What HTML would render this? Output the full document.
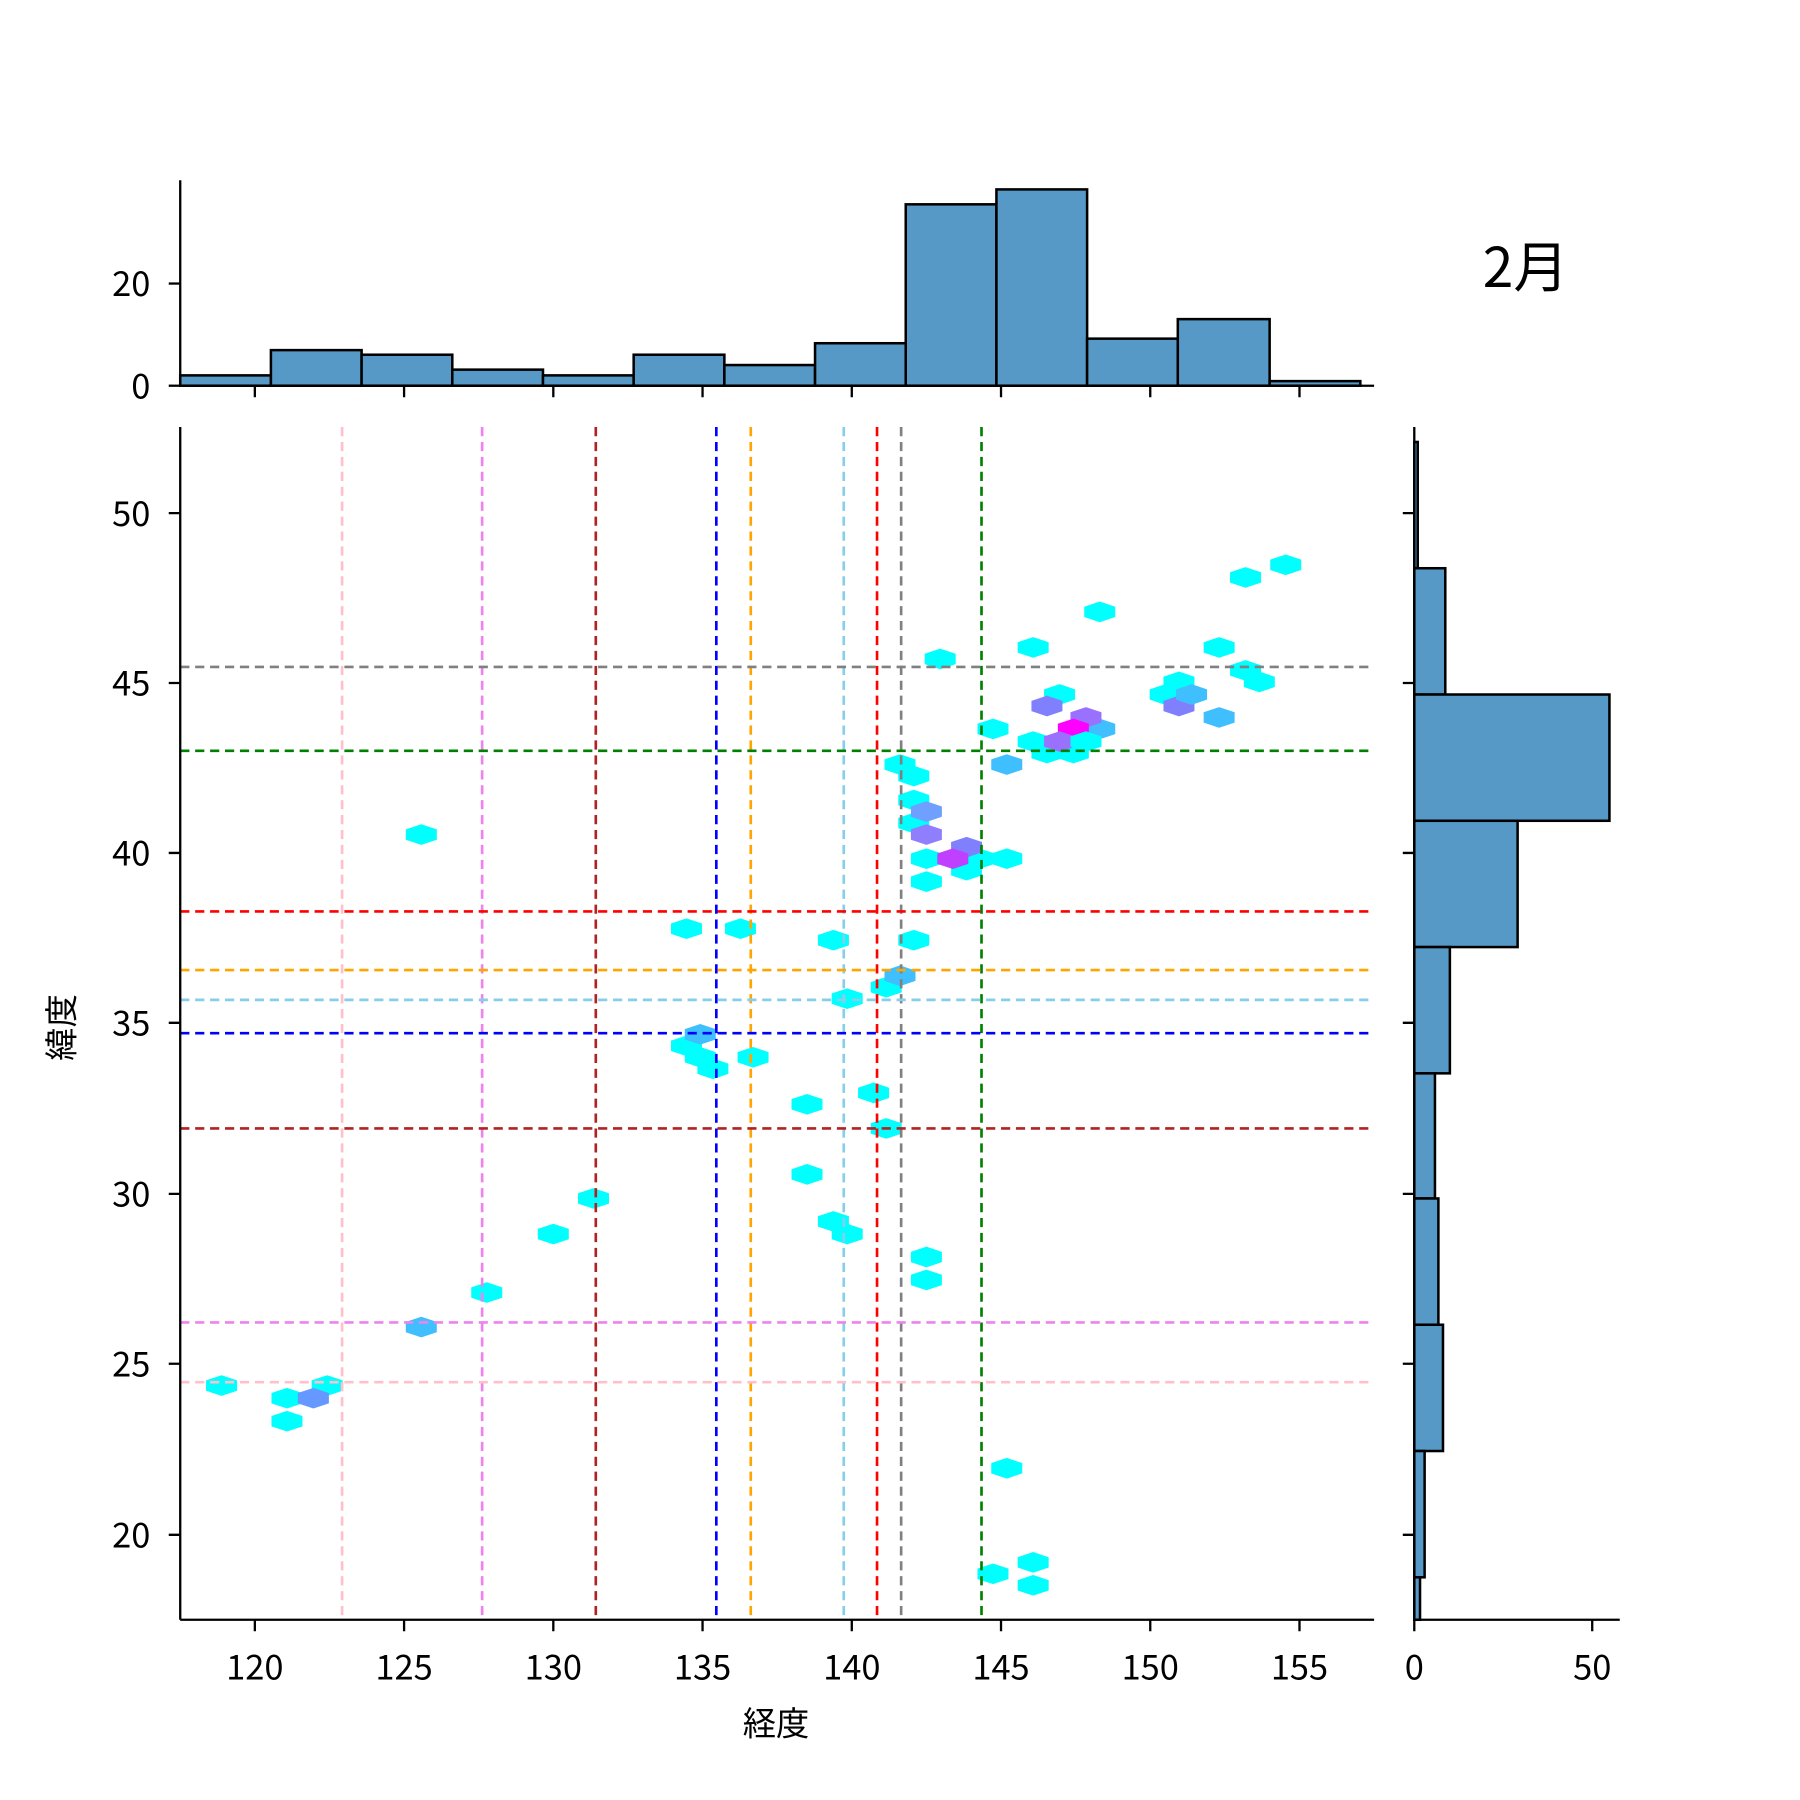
<!DOCTYPE html>
<html><head><meta charset="utf-8"><style>html,body{margin:0;padding:0;background:#fff}svg{display:block}</style></head>
<body>
<svg width="1800" height="1800" viewBox="0 0 1568 1568" xmlns="http://www.w3.org/2000/svg" font-family="Noto Sans CJK JP, Liberation Sans, sans-serif">
<rect width="1568" height="1568" fill="#fff"/>
<defs><polygon id="h" points="0,-9 13.5,-4.5 13.5,4.5 0,9 -13.5,4.5 -13.5,-4.5"/></defs>
<g fill="#5799c6" stroke="#000" stroke-width="2.2">
<rect x="157" y="327" width="79" height="9"/>
<rect x="236" y="305" width="79" height="31"/>
<rect x="315" y="309" width="79" height="27"/>
<rect x="394" y="322" width="79" height="14"/>
<rect x="473" y="327" width="79" height="9"/>
<rect x="552" y="309" width="79" height="27"/>
<rect x="631" y="318" width="79" height="18"/>
<rect x="710" y="299" width="79" height="37"/>
<rect x="789" y="178" width="79" height="158"/>
<rect x="868" y="165" width="79" height="171"/>
<rect x="947" y="295" width="79" height="41"/>
<rect x="1026" y="278" width="80" height="58"/>
<rect x="1106" y="332" width="79" height="4"/>
</g>
<g stroke="#000" stroke-width="2" fill="none">
<line x1="157" y1="157" x2="157" y2="336"/><line x1="157" y1="336" x2="1197" y2="336"/>
<line x1="147" y1="336" x2="157" y2="336"/><line x1="147" y1="247" x2="157" y2="247"/>
<path d="M222 336v10M352 336v10M482 336v10M612 336v10M742 336v10M872 336v10M1002 336v10M1132 336v10"/>
</g>
<g font-size="30" text-anchor="end"><text x="131" y="347">0</text><text x="131" y="258">20</text></g>
<text x="1329" y="250" font-size="48" text-anchor="middle">2月</text>
<g fill="#5799c6" stroke="#000" stroke-width="2.2">
<rect x="1232" y="385" width="3" height="110"/>
<rect x="1232" y="495" width="27" height="110"/>
<rect x="1232" y="605" width="170" height="110"/>
<rect x="1232" y="715" width="90" height="110"/>
<rect x="1232" y="825" width="31" height="110"/>
<rect x="1232" y="935" width="18" height="109"/>
<rect x="1232" y="1044" width="21" height="110"/>
<rect x="1232" y="1154" width="25" height="110"/>
<rect x="1232" y="1264" width="9" height="110"/>
<rect x="1232" y="1374" width="5" height="37"/>
</g>
<g stroke="#000" stroke-width="2" fill="none">
<line x1="1232" y1="372" x2="1232" y2="1411"/><line x1="1232" y1="1411" x2="1411" y2="1411"/>
<path d="M1232 1411v10M1387 1411v10"/>
<path d="M1222 447h10M1222 595h10M1222 743h10M1222 891h10M1222 1040h10M1222 1188h10M1222 1337h10"/>
</g>
<g font-size="30" text-anchor="middle"><text x="1232" y="1463">0</text><text x="1387" y="1463">50</text></g>
<g fill="#00ffff">
<use href="#h" x="193" y="1207"/><use href="#h" x="250" y="1218"/><use href="#h" x="250" y="1238"/><use href="#h" x="285" y="1207"/>
<use href="#h" x="367" y="727"/><use href="#h" x="424" y="1126"/><use href="#h" x="482" y="1075"/><use href="#h" x="517" y="1044"/>
<use href="#h" x="598" y="809"/><use href="#h" x="645" y="809"/><use href="#h" x="598" y="911"/><use href="#h" x="610" y="921"/><use href="#h" x="621" y="931"/>
<use href="#h" x="656" y="921"/><use href="#h" x="703" y="962"/><use href="#h" x="703" y="1023"/><use href="#h" x="726" y="819"/>
<use href="#h" x="726" y="1064"/><use href="#h" x="738" y="1075"/><use href="#h" x="738" y="870"/><use href="#h" x="761" y="952"/>
<use href="#h" x="772" y="860"/><use href="#h" x="772" y="983"/><use href="#h" x="784" y="666"/><use href="#h" x="796" y="676"/>
<use href="#h" x="796" y="697"/><use href="#h" x="796" y="717"/><use href="#h" x="796" y="819"/><use href="#h" x="807" y="748"/>
<use href="#h" x="853" y="748"/><use href="#h" x="842" y="758"/><use href="#h" x="877" y="748"/><use href="#h" x="807" y="768"/>
<use href="#h" x="807" y="1095"/><use href="#h" x="807" y="1115"/><use href="#h" x="819" y="574"/><use href="#h" x="865" y="635"/>
<use href="#h" x="877" y="1279"/><use href="#h" x="865" y="1371"/><use href="#h" x="900" y="1361"/><use href="#h" x="900" y="1381"/>
<use href="#h" x="900" y="564"/><use href="#h" x="900" y="646"/><use href="#h" x="912" y="656"/><use href="#h" x="923" y="605"/>
<use href="#h" x="935" y="656"/><use href="#h" x="958" y="533"/><use href="#h" x="1015" y="605"/><use href="#h" x="1027" y="594"/>
<use href="#h" x="1062" y="564"/><use href="#h" x="1085" y="503"/><use href="#h" x="1085" y="584"/><use href="#h" x="1097" y="594"/><use href="#h" x="1120" y="492"/>
</g>
<use href="#h" x="273" y="1218" fill="#6699ff"/>
<use href="#h" x="367" y="1156" fill="#40bfff"/>
<use href="#h" x="610" y="901" fill="#40bfff"/>
<use href="#h" x="784" y="850" fill="#40bfff"/>
<use href="#h" x="807" y="707" fill="#6f9fff"/>
<use href="#h" x="807" y="727" fill="#8f7fff"/>
<use href="#h" x="842" y="738" fill="#8080ff"/>
<use href="#h" x="830" y="748" fill="#c040ff"/>
<use href="#h" x="877" y="666" fill="#40bfff"/>
<use href="#h" x="912" y="615" fill="#8080ff"/>
<use href="#h" x="958" y="635" fill="#40bfff"/>
<use href="#h" x="946" y="625" fill="#9a70ff"/>
<use href="#h" x="935" y="635" fill="#ff00ff"/>
<use href="#h" x="923" y="646" fill="#9a70ff"/>
<use href="#h" x="946" y="646" fill="#00ffff"/>
<use href="#h" x="1027" y="615" fill="#8080ff"/>
<use href="#h" x="1038" y="605" fill="#40bfff"/>
<use href="#h" x="1062" y="625" fill="#40bfff"/>
<g stroke-width="2.3" stroke-dasharray="8,5" fill="none">
<line x1="298" y1="372" x2="298" y2="1411" stroke="#ffc0cb"/>
<line x1="420" y1="372" x2="420" y2="1411" stroke="#ee82ee"/>
<line x1="519" y1="372" x2="519" y2="1411" stroke="#b22222"/>
<line x1="624" y1="372" x2="624" y2="1411" stroke="#0000ff"/>
<line x1="654" y1="372" x2="654" y2="1411" stroke="#ffa500"/>
<line x1="735" y1="372" x2="735" y2="1411" stroke="#87ceeb"/>
<line x1="764" y1="372" x2="764" y2="1411" stroke="#ff0000"/>
<line x1="785" y1="372" x2="785" y2="1411" stroke="#808080"/>
<line x1="855" y1="372" x2="855" y2="1411" stroke="#008000"/>
<line x1="157" y1="581" x2="1197" y2="581" stroke="#808080"/>
<line x1="157" y1="654" x2="1197" y2="654" stroke="#008000"/>
<line x1="157" y1="794" x2="1197" y2="794" stroke="#ff0000"/>
<line x1="157" y1="845" x2="1197" y2="845" stroke="#ffa500"/>
<line x1="157" y1="871" x2="1197" y2="871" stroke="#87ceeb"/>
<line x1="157" y1="900" x2="1197" y2="900" stroke="#0000ff"/>
<line x1="157" y1="983" x2="1197" y2="983" stroke="#b22222"/>
<line x1="157" y1="1152" x2="1197" y2="1152" stroke="#ee82ee"/>
<line x1="157" y1="1204" x2="1197" y2="1204" stroke="#ffc0cb"/>
</g>
<g stroke="#000" stroke-width="2" fill="none">
<line x1="157" y1="372" x2="157" y2="1411"/><line x1="157" y1="1411" x2="1197" y2="1411"/>
<path d="M222 1411v10M352 1411v10M482 1411v10M612 1411v10M742 1411v10M872 1411v10M1002 1411v10M1132 1411v10"/>
<path d="M147 447h10M147 595h10M147 743h10M147 891h10M147 1040h10M147 1188h10M147 1337h10"/>
</g>
<g font-size="30" text-anchor="middle">
<text x="222" y="1463">120</text><text x="352" y="1463">125</text><text x="482" y="1463">130</text><text x="612" y="1463">135</text>
<text x="742" y="1463">140</text><text x="872" y="1463">145</text><text x="1002" y="1463">150</text><text x="1132" y="1463">155</text>
</g>
<g font-size="30" text-anchor="end">
<text x="131" y="458">50</text><text x="131" y="606">45</text><text x="131" y="754">40</text><text x="131" y="902">35</text>
<text x="131" y="1051">30</text><text x="131" y="1199">25</text><text x="131" y="1348">20</text>
</g>
<text x="676" y="1512" font-size="29" text-anchor="middle">経度</text>
<text transform="translate(64,895) rotate(-90)" font-size="29" text-anchor="middle">緯度</text>
</svg>
</body></html>
